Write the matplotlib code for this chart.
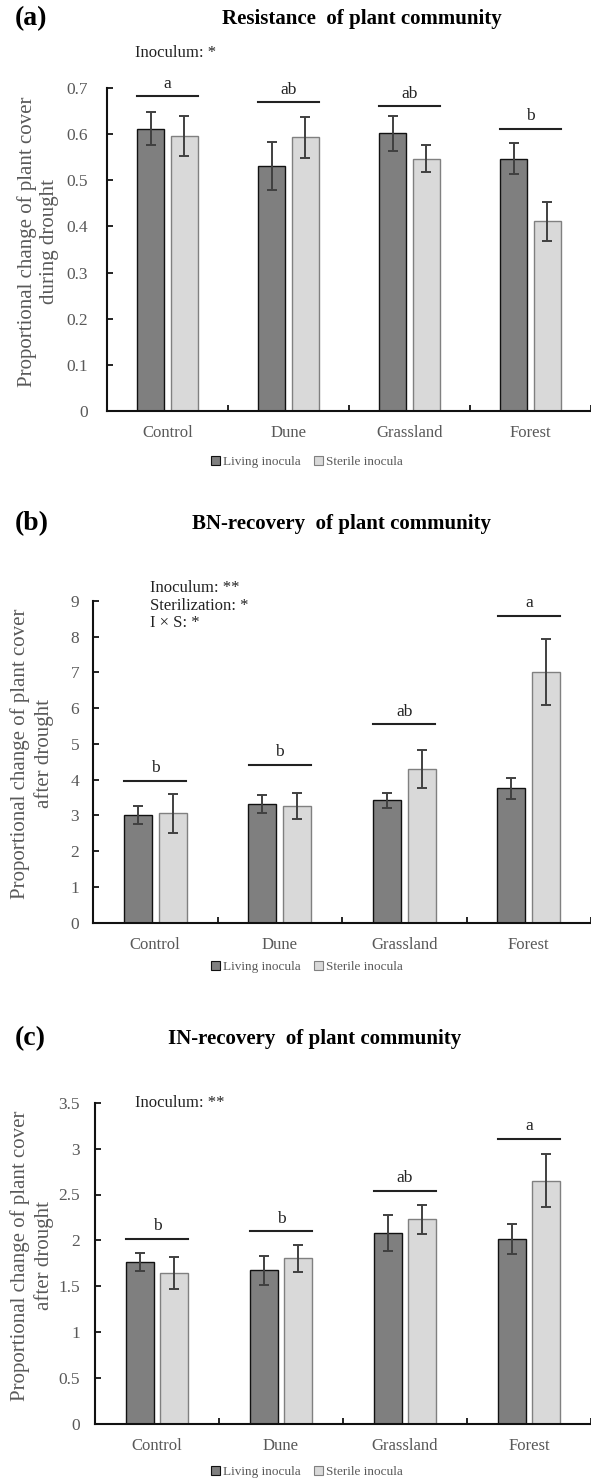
import matplotlib
matplotlib.use('Agg')
import matplotlib.pyplot as plt
import matplotlib.patches as mpatches
import numpy as np

plt.rcParams.update({
    'font.family': ['Liberation Serif', 'DejaVu Serif'],
    'font.size': 12,
})

W, H = 591, 1482

categories = ['Control', 'Dune', 'Grassland', 'Forest']
series = ['Living inocula', 'Sterile inocula']

# panel (a) resistance
res_living = [0.612, 0.531, 0.602, 0.547]
res_living_err = [0.035, 0.052, 0.038, 0.034]
res_sterile = [0.596, 0.593, 0.547, 0.411]
res_sterile_err = [0.044, 0.044, 0.030, 0.042]
res_letters = ['a', 'ab', 'ab', 'b']
res_letter_y = [0.683, 0.670, 0.660, 0.612]

# panel (b) BN-recovery
bn_living = [3.01, 3.31, 3.43, 3.76]
bn_living_err = [0.26, 0.25, 0.21, 0.29]
bn_sterile = [3.06, 3.26, 4.30, 7.01]
bn_sterile_err = [0.54, 0.36, 0.52, 0.92]
bn_letters = ['b', 'b', 'ab', 'a']
bn_letter_y = [3.97, 4.42, 5.56, 8.59]

# panel (c) IN-recovery
in_living = [1.768, 1.674, 2.084, 2.019]
in_living_err = [0.10, 0.155, 0.195, 0.165]
in_sterile = [1.645, 1.805, 2.229, 2.651]
in_sterile_err = [0.175, 0.147, 0.155, 0.29]
in_letters = ['b', 'b', 'ab', 'a']
in_letter_y = [2.02, 2.10, 2.54, 3.11]

LIVING_COLOR = '#7f7f7f'
STERILE_COLOR = '#d9d9d9'
ERR_COLOR = '#404040'
TICK_TEXT = '#595959'

panels = [
    dict(tag='(a)', title='Resistance  of plant community', title_x=362, title_y=19,
         rect=(107, 88, 411), ylim=0.7, ystep=0.1,
         ylabel='Proportional change of plant cover\nduring drought', ylab_x=38,
         living=res_living, living_err=res_living_err,
         sterile=res_sterile, sterile_err=res_sterile_err,
         letters=res_letters, letter_y=res_letter_y,
         note='Inoculum: *', note_xy=(-0.27, 0.7765), ypad=14, legend_y=462),
    dict(tag='(b)', title='BN-recovery  of plant community', title_x=342, title_y=524,
         rect=(93, 601, 922.7), ylim=9, ystep=1,
         ylabel='Proportional change of plant cover\nafter drought', ylab_x=32,
         living=bn_living, living_err=bn_living_err,
         sterile=bn_sterile, sterile_err=bn_sterile_err,
         letters=bn_letters, letter_y=bn_letter_y,
         note='Inoculum: **\nSterilization: *\nI × S: *', note_xy=(-0.045, 8.87),
         ypad=10, legend_y=967),
    dict(tag='(c)', title='IN-recovery  of plant community', title_x=315, title_y=1039,
         rect=(95, 1102.7, 1424), ylim=3.5, ystep=0.5,
         ylabel='Proportional change of plant cover\nafter drought', ylab_x=32,
         living=in_living, living_err=in_living_err,
         sterile=in_sterile, sterile_err=in_sterile_err,
         letters=in_letters, letter_y=in_letter_y,
         note='Inoculum: **', note_xy=(-0.177, 3.5), ypad=11, legend_y=1472),
]

fig = plt.figure(figsize=(W / 100, H / 100), dpi=100)
x = np.arange(len(categories))
bw = 0.225
off = 0.14

for p in panels:
    left, top, bottom = p['rect']
    ax = fig.add_axes([left / W, 1 - bottom / H, (W - left) / W, (bottom - top) / H])

    ax.bar(x - off, p['living'], bw, color=LIVING_COLOR, edgecolor='#111111', lw=1.0, zorder=2)
    ax.bar(x + off, p['sterile'], bw, color=STERILE_COLOR, edgecolor='#808080', lw=1.0, zorder=2)
    ax.errorbar(x - off, p['living'], yerr=p['living_err'], fmt='none', ecolor=ERR_COLOR,
                elinewidth=1.4, capsize=3.5, capthick=1.4, zorder=3)
    ax.errorbar(x + off, p['sterile'], yerr=p['sterile_err'], fmt='none', ecolor=ERR_COLOR,
                elinewidth=1.4, capsize=3.5, capthick=1.4, zorder=3)

    # significance letters
    for xi, ly, lt in zip(x, p['letter_y'], p['letters']):
        ax.plot([xi - 0.25, xi + 0.25], [ly, ly], color='#222222', lw=1.5,
                clip_on=False, zorder=4)
        ax.annotate(lt, (xi, ly), xytext=(0, 6), textcoords='offset points',
                    ha='center', va='baseline', fontsize=12.5, color='#222222',
                    annotation_clip=False)

    ax.text(p['note_xy'][0], p['note_xy'][1], p['note'], ha='left', va='center',
            fontsize=12, color='#222222', linespacing=1.1, clip_on=False)

    ax.set_xlim(-0.5, 3.5)
    ax.set_ylim(0, p['ylim'])
    yt = np.arange(0, p['ylim'] + p['ystep'] / 2, p['ystep'])
    ax.set_yticks(yt)
    ax.set_yticklabels([f'{v:g}' for v in np.round(yt, 2)])
    ax.set_xticks(np.arange(-0.5, 4, 1.0))
    ax.set_xticklabels([])
    ax.set_xticks(x, minor=True)
    ax.set_xticklabels(categories, minor=True)

    for s in ['top', 'right']:
        ax.spines[s].set_visible(False)
    for s in ['left', 'bottom']:
        ax.spines[s].set_linewidth(1.5)
        ax.spines[s].set_color('#111111')

    ax.tick_params(axis='y', which='major', direction='in', length=4.5, width=1.2,
                   pad=p['ypad'], labelsize=12.5, labelcolor=TICK_TEXT)
    ax.tick_params(axis='x', which='major', direction='in', length=4.5, width=1.2)
    ax.tick_params(axis='x', which='minor', length=0, pad=10, labelsize=12,
                   labelcolor=TICK_TEXT)

    cy = 1 - ((top + bottom) / 2 - 8) / H
    fig.text(p['ylab_x'] / W, cy, p['ylabel'], rotation=90, ha='center', va='center',
             fontsize=15, color=TICK_TEXT, linespacing=1.25, multialignment='center')

    fig.text(15 / W, 1 - p['title_y'] / H, p['tag'], ha='left', va='center',
             fontsize=20, fontweight='bold')
    fig.text(p['title_x'] / W, 1 - p['title_y'] / H, p['title'], ha='center',
             va='center', fontsize=15, fontweight='bold')

    handles = [mpatches.Patch(facecolor=LIVING_COLOR, edgecolor='#111111', lw=0.8, label=series[0]),
               mpatches.Patch(facecolor=STERILE_COLOR, edgecolor='#808080', lw=0.8, label=series[1])]
    fig.legend(handles=handles, loc='center', bbox_to_anchor=(307 / W, 1 - p['legend_y'] / H),
               ncol=2, frameon=False, fontsize=9.5, handlelength=0.7, handleheight=0.7,
               handletextpad=0.2, columnspacing=1.0, labelcolor=TICK_TEXT)

fig.savefig('out.png', dpi=100, facecolor='white')
